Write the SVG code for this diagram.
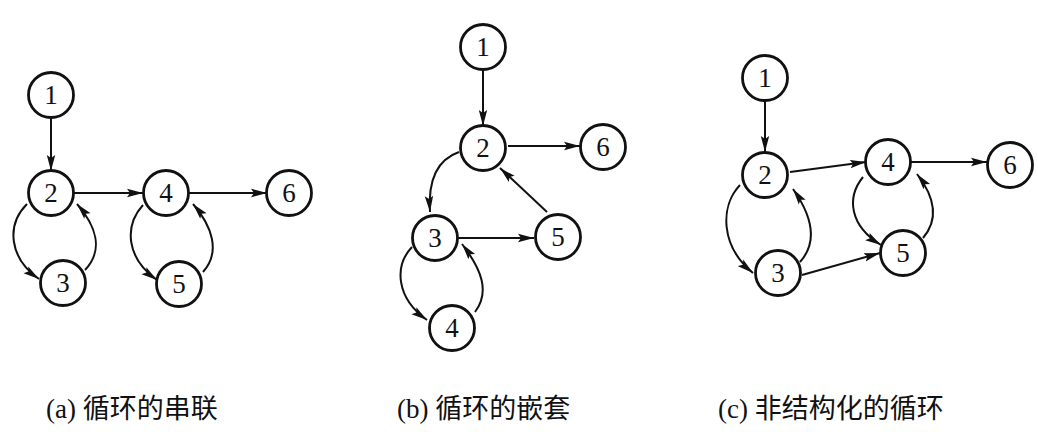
<svg xmlns="http://www.w3.org/2000/svg" width="1038" height="432" viewBox="0 0 1038 432">
<style>
.n circle{fill:#fff;stroke:#111;stroke-width:2.8}
.n text{font-family:"Liberation Serif","DejaVu Serif",serif;font-size:27px;fill:#111;text-anchor:middle;dominant-baseline:central}
.e path{fill:none;stroke:#111;stroke-width:2;marker-end:url(#ah)}
.cap{font-family:"Liberation Serif","Noto Sans CJK SC",serif;font-size:27px;fill:#111}
</style>
<defs>
<marker id="ah" markerUnits="userSpaceOnUse" markerWidth="18" markerHeight="10" refX="16" refY="5" orient="auto">
<path d="M0,0.8 L16,5 L0,9.2 L3,5 Z" fill="#111"/>
</marker>
</defs>
<rect width="1038" height="432" fill="#fff"/>
<g id="connectors" class="e">
<!-- panel a -->
<path d="M51,118 L51,171"/>
<path d="M73,193 L143,193"/>
<path d="M188,193 L267,193"/>
<path d="M27,204 C6,225 9,258 39,279"/>
<path d="M85,270 C104,250 96,226 77,204"/>
<path d="M143,205 C124,226 126,258 157,280"/>
<path d="M203,272 C221,252 212,226 193,204"/>
<!-- panel b -->
<path d="M483,69 L483,126"/>
<path d="M508,146 L580,146"/>
<path d="M459,152 C436,160 428,182 430,212"/>
<path d="M547,212 L500,168"/>
<path d="M457,238 L534,238"/>
<path d="M412,247 C394,266 396,298 427,320"/>
<path d="M475,312 C490,292 482,270 462,244"/>
<!-- panel c -->
<path d="M765,101 L765,152"/>
<path d="M790,172 L866,162"/>
<path d="M911,162 L987,162"/>
<path d="M740,185 C720,206 720,246 753,273"/>
<path d="M800,262 C818,242 812,216 793,189"/>
<path d="M802,275 L880,253"/>
<path d="M863,177 C846,198 850,226 881,245"/>
<path d="M923,238 C940,218 934,196 917,174"/>
</g>
<g id="a1" class="n"><circle cx="51" cy="95" r="22.5"/><text x="51" y="95">1</text></g>
<g id="a2" class="n"><circle cx="51" cy="193" r="22.5"/><text x="51" y="193">2</text></g>
<g id="a3" class="n"><circle cx="63" cy="283" r="22.5"/><text x="63" y="283">3</text></g>
<g id="a4" class="n"><circle cx="166" cy="193" r="22.5"/><text x="166" y="193">4</text></g>
<g id="a5" class="n"><circle cx="179" cy="284" r="22.5"/><text x="179" y="284">5</text></g>
<g id="a6" class="n"><circle cx="289" cy="193" r="22.5"/><text x="289" y="193">6</text></g>

<g id="b1" class="n"><circle cx="483" cy="47" r="22.5"/><text x="483" y="47">1</text></g>
<g id="b2" class="n"><circle cx="483" cy="148" r="22.5"/><text x="483" y="148">2</text></g>
<g id="b6" class="n"><circle cx="603" cy="147" r="22.5"/><text x="603" y="147">6</text></g>
<g id="b3" class="n"><circle cx="435" cy="238" r="22.5"/><text x="435" y="238">3</text></g>
<g id="b5" class="n"><circle cx="558" cy="237" r="22.5"/><text x="558" y="237">5</text></g>
<g id="b4" class="n"><circle cx="452" cy="328" r="22.5"/><text x="452" y="328">4</text></g>

<g id="c1" class="n"><circle cx="765" cy="78" r="22.5"/><text x="765" y="78">1</text></g>
<g id="c2" class="n"><circle cx="765" cy="175" r="22.5"/><text x="765" y="175">2</text></g>
<g id="c4" class="n"><circle cx="888" cy="162" r="22.5"/><text x="888" y="162">4</text></g>
<g id="c6" class="n"><circle cx="1010" cy="165" r="22.5"/><text x="1010" y="165">6</text></g>
<g id="c3" class="n"><circle cx="778" cy="273" r="22.5"/><text x="778" y="273">3</text></g>
<g id="c5" class="n"><circle cx="903" cy="253" r="22.5"/><text x="903" y="253">5</text></g>

<g id="captions">
<text class="cap" x="46" y="418">(a) 循环的串联</text>
<text class="cap" x="397" y="418">(b) 循环的嵌套</text>
<text class="cap" x="718" y="418">(c) 非结构化的循环</text>
</g>
</svg>
